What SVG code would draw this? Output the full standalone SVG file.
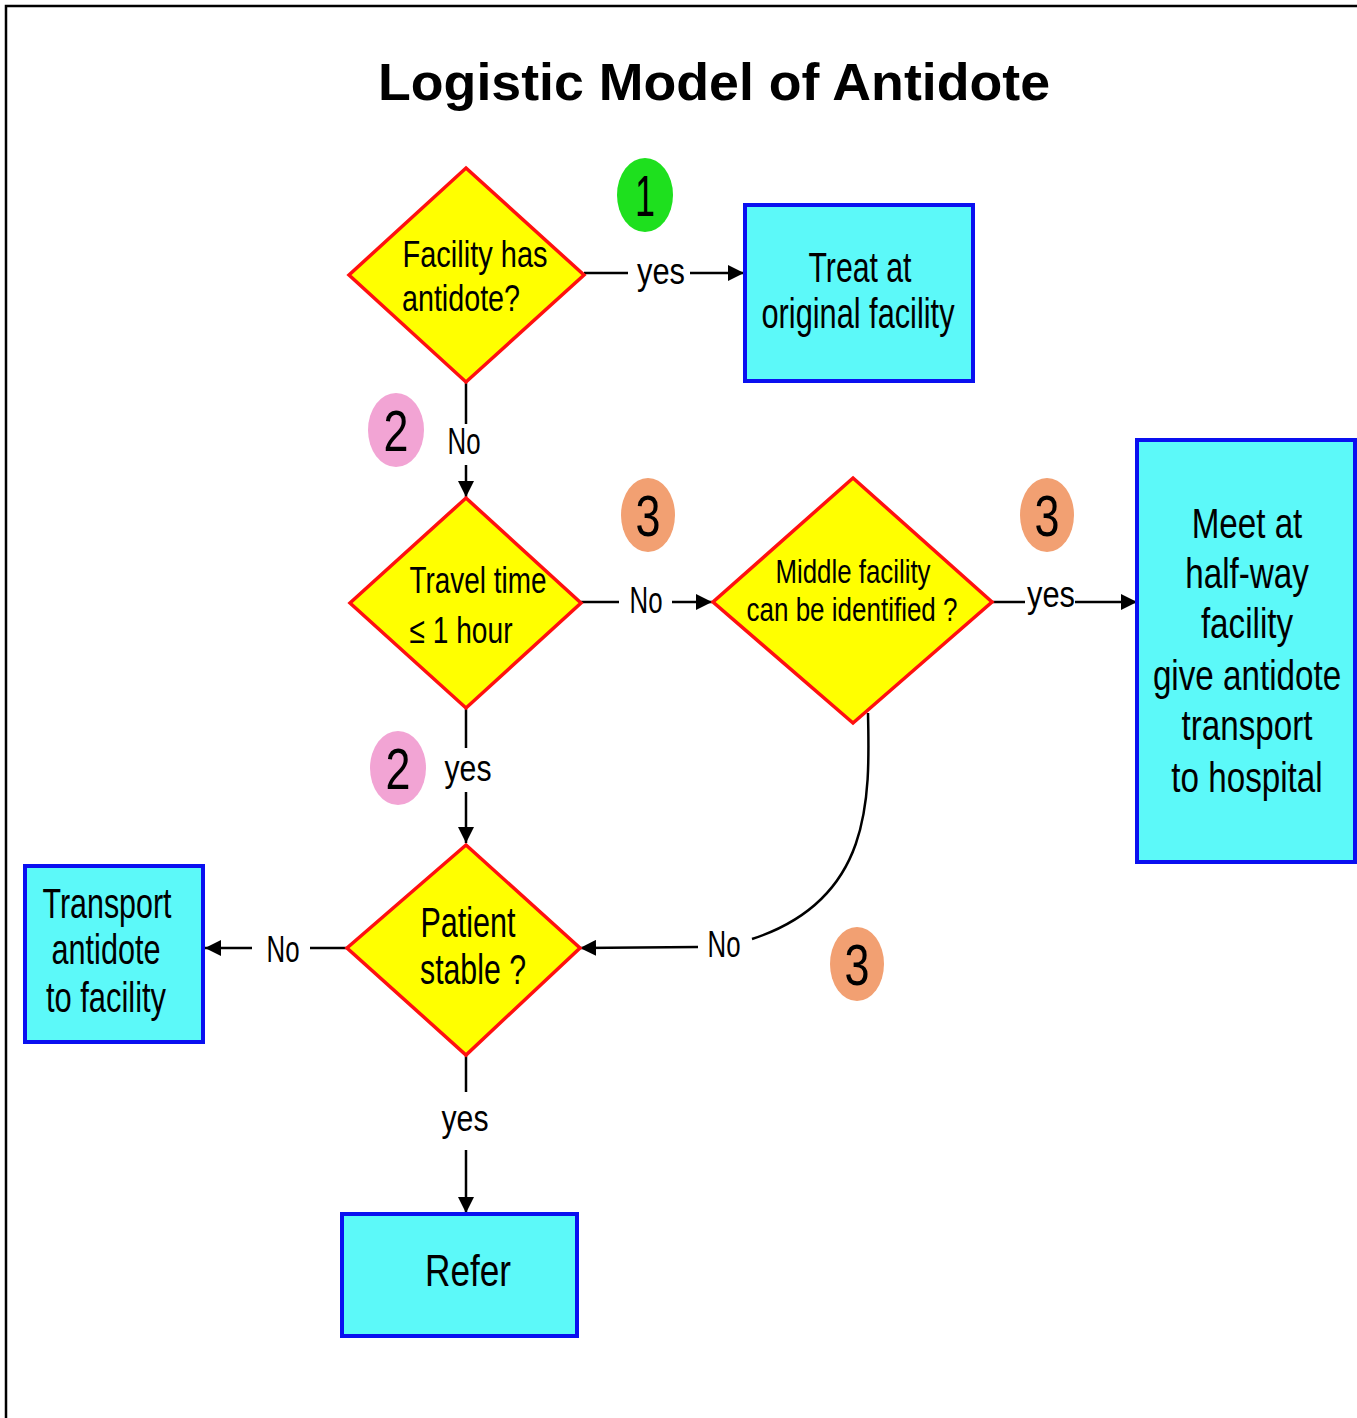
<svg xmlns="http://www.w3.org/2000/svg" width="1357" height="1418" viewBox="0 0 1357 1418">
<defs>
<marker id="ah" markerUnits="userSpaceOnUse" markerWidth="18" markerHeight="16" refX="16" refY="8" orient="auto">
<path d="M0,0 L16,8 L0,16 Z" fill="#000"/>
</marker>
<style>
.t{font-family:"Liberation Sans",Arial,sans-serif;fill:#000;text-anchor:middle}
.dia{fill:#FFFF00;stroke:#FF1010;stroke-width:3.5;stroke-linejoin:miter}
.box{fill:#5CF9F9;stroke:#0A10F0;stroke-width:4}
.ln{stroke:#000;stroke-width:2.5;fill:none}
.d{font-size:37px}
.b{font-size:43px}
.l{font-size:36px}
.n{font-size:57px}
.m{font-size:43px}
</style>
</defs>
<rect width="1357" height="1418" fill="#fff"/>
<path d="M6,1418 V6 H1357" fill="none" stroke="#000" stroke-width="2.5"/>
<text class="t" x="714" y="100" font-size="52" font-weight="bold" textLength="672" lengthAdjust="spacingAndGlyphs">Logistic Model of Antidote</text>

<g id="connectors">
<line class="ln" x1="584" y1="273" x2="628" y2="273"/>
<line class="ln" x1="690" y1="273" x2="744" y2="273" marker-end="url(#ah)"/>
<line class="ln" x1="466" y1="382" x2="466" y2="424"/>
<line class="ln" x1="466" y1="465" x2="466" y2="497" marker-end="url(#ah)"/>
<line class="ln" x1="581" y1="602" x2="619" y2="602"/>
<line class="ln" x1="672" y1="602" x2="712" y2="602" marker-end="url(#ah)"/>
<line class="ln" x1="992" y1="602" x2="1025" y2="602"/>
<line class="ln" x1="1075" y1="602" x2="1137" y2="602" marker-end="url(#ah)"/>
<line class="ln" x1="466" y1="708" x2="466" y2="748"/>
<line class="ln" x1="466" y1="792" x2="466" y2="843" marker-end="url(#ah)"/>
<line class="ln" x1="347" y1="948" x2="310" y2="948"/>
<line class="ln" x1="252" y1="948" x2="205" y2="948" marker-end="url(#ah)"/>
<path class="ln" d="M868,713 C870,800 872,900 752,939"/>
<line class="ln" x1="698" y1="947" x2="580" y2="948" marker-end="url(#ah)"/>
<line class="ln" x1="466" y1="1055" x2="466" y2="1092"/>
<line class="ln" x1="466" y1="1150" x2="466" y2="1213" marker-end="url(#ah)"/>
<text class="t l" x="661" y="284" textLength="48" lengthAdjust="spacingAndGlyphs">yes</text>
<text class="t l" x="464" y="454" textLength="33" lengthAdjust="spacingAndGlyphs">No</text>
<text class="t l" x="646" y="613" textLength="33" lengthAdjust="spacingAndGlyphs">No</text>
<text class="t l" x="1051" y="607" textLength="48" lengthAdjust="spacingAndGlyphs">yes</text>
<text class="t l" x="468" y="781" textLength="47" lengthAdjust="spacingAndGlyphs">yes</text>
<text class="t l" x="283" y="962" textLength="33" lengthAdjust="spacingAndGlyphs">No</text>
<text class="t l" x="724" y="957" textLength="33" lengthAdjust="spacingAndGlyphs">No</text>
<text class="t l" x="465" y="1131" textLength="47" lengthAdjust="spacingAndGlyphs">yes</text>
</g>

<g id="badge-1"><ellipse cx="645" cy="195" rx="28" ry="37" fill="#1EE01E"/><text class="t n" x="645" y="216" textLength="20" lengthAdjust="spacingAndGlyphs">1</text></g>
<g id="badge-2a"><ellipse cx="396" cy="430" rx="28" ry="37" fill="#F2A4D4"/><text class="t n" x="396" y="451" textLength="25" lengthAdjust="spacingAndGlyphs">2</text></g>
<g id="badge-3a"><ellipse cx="648" cy="515" rx="27" ry="37" fill="#F2A072"/><text class="t n" x="648" y="536" textLength="25" lengthAdjust="spacingAndGlyphs">3</text></g>
<g id="badge-3b"><ellipse cx="1047" cy="515" rx="27" ry="37" fill="#F2A072"/><text class="t n" x="1047" y="536" textLength="25" lengthAdjust="spacingAndGlyphs">3</text></g>
<g id="badge-2b"><ellipse cx="398" cy="768" rx="28" ry="37" fill="#F2A4D4"/><text class="t n" x="398" y="789" textLength="25" lengthAdjust="spacingAndGlyphs">2</text></g>
<g id="badge-3c"><ellipse cx="857" cy="964" rx="27" ry="37" fill="#F2A072"/><text class="t n" x="857" y="985" textLength="25" lengthAdjust="spacingAndGlyphs">3</text></g>

<g id="facility-has-antidote">
<polygon class="dia" points="466,168 584,275 466,382 349,275"/>
<text class="t d" x="475" y="267" textLength="145" lengthAdjust="spacingAndGlyphs">Facility has</text>
<text class="t d" x="461" y="311" textLength="118" lengthAdjust="spacingAndGlyphs">antidote?</text>
</g>

<g id="treat-original">
<rect class="box" x="745" y="205" width="228" height="176"/>
<text class="t b" x="860" y="282" textLength="103" lengthAdjust="spacingAndGlyphs">Treat at</text>
<text class="t b" x="858" y="328" textLength="193" lengthAdjust="spacingAndGlyphs">original facility</text>
</g>

<g id="travel-time">
<polygon class="dia" points="466,498 581,603 466,708 350,603"/>
<text class="t d" x="478" y="593" textLength="137" lengthAdjust="spacingAndGlyphs">Travel time</text>
<text class="t d" x="461" y="643" textLength="103" lengthAdjust="spacingAndGlyphs">≤ 1 hour</text>
</g>

<g id="middle-facility">
<polygon class="dia" points="853,478 992,602 853,723 713,602"/>
<text class="t" x="853" y="583" font-size="34" textLength="155" lengthAdjust="spacingAndGlyphs">Middle facility</text>
<text class="t" x="852" y="621" font-size="34" textLength="211" lengthAdjust="spacingAndGlyphs">can be identified ?</text>
</g>

<g id="meet-halfway">
<rect class="box" x="1137" y="440" width="218" height="422"/>
<g transform="translate(1247,0) scale(0.772,1)">
<text class="t m" x="0" y="538">Meet at</text>
<text class="t m" x="0" y="588">half-way</text>
<text class="t m" x="0" y="638">facility</text>
<text class="t m" x="0" y="690">give antidote</text>
<text class="t m" x="0" y="740">transport</text>
<text class="t m" x="0" y="792">to hospital</text>
</g>
</g>

<g id="patient-stable">
<polygon class="dia" points="466,845 580,948 466,1055 347,948"/>
<text class="t b" x="468" y="937" textLength="95" lengthAdjust="spacingAndGlyphs">Patient</text>
<text class="t b" x="473" y="984" textLength="106" lengthAdjust="spacingAndGlyphs">stable ?</text>
</g>

<g id="transport-antidote">
<rect class="box" x="25" y="866" width="178" height="176"/>
<text class="t b" x="107" y="918" textLength="129" lengthAdjust="spacingAndGlyphs">Transport</text>
<text class="t b" x="106" y="964" textLength="109" lengthAdjust="spacingAndGlyphs">antidote</text>
<text class="t b" x="106" y="1012" textLength="120" lengthAdjust="spacingAndGlyphs">to facility</text>
</g>

<g id="refer">
<rect class="box" x="342" y="1214" width="235" height="122"/>
<text class="t" x="468" y="1286" font-size="45" textLength="86" lengthAdjust="spacingAndGlyphs">Refer</text>
</g>
</svg>
